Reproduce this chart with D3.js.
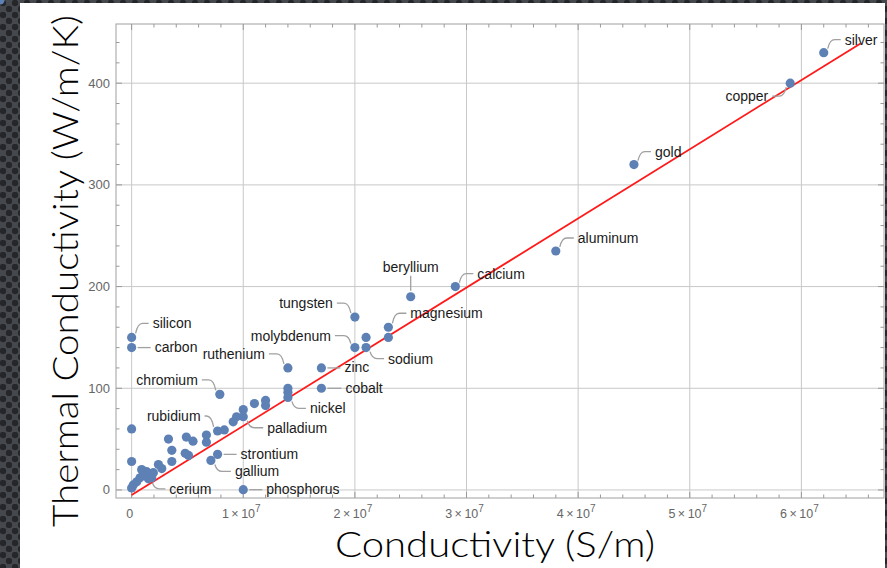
<!DOCTYPE html>
<html lang="en">
<head>
<meta charset="UTF-8">
<title>Thermal vs electrical conductivity</title>
<script src="https://d3js.org/d3.v7.min.js"></script>
<style>
  body { margin: 0; background: #3b3d42; }
  svg { display: block; }
</style>
</head>
<body>
<script>
// element names ("" = unlabeled point)
const names = ["silver", "copper", "gold", "aluminum", "calcium", "beryllium", "magnesium", "sodium",
  "tungsten", "molybdenum", "zinc", "cobalt", "nickel", "ruthenium", "chromium", "silicon", "carbon",
  "rubidium", "palladium", "strontium", "gallium", "phosphorus", "cerium",
  "", "", "", "", "", "", "", "", "", "", "", "", "", "", "", "", "", "", "", "", "", "",
  "", "", "", "", "", "", "", "", "", "", "", "", ""];
// electrical conductivity, S/m
const sigma = [6.2e7, 5.9e7, 4.5e7, 3.8e7, 2.9e7, 2.5e7, 2.3e7, 2.1e7,
  2.0e7, 2.0e7, 1.7e7, 1.7e7, 1.4e7, 1.4e7, 7.9e6, 0, 0,
  7.7e6, 1.0e7, 7.7e6, 7.1e6, 1.0e7, 1.5e6,
  2.3e7, 2.1e7, 1.4e7, 1.4e7, 8.3e6, 9.1e6, 9.4e6, 1.0e7, 1.1e7, 1.2e7, 1.2e7, 6.7e6, 6.7e6,
  5.5e6, 4.9e6, 3.3e6, 3.6e6, 4.8e6, 5.1e6, 3.6e6, 2.4e6, 2.7e6, 0, 0, 0, 1.5e5, 4.6e5, 7.5e5,
  9.0e5, 1.05e6, 1.35e6, 1.65e6, 1.95e6, 1.8e6];
// thermal conductivity, W/m/K
const kappa = [430, 400, 320, 235, 200, 190, 160, 140,
  170, 140, 120, 100, 91, 120, 94, 150, 140,
  58, 72, 35, 29, 0.24, 11,
  150, 150, 100, 96, 59, 67, 72, 79, 85, 88, 83, 54, 47,
  48, 52, 50, 39, 36, 34, 28, 25, 21, 60, 28, 2, 5, 8, 12,
  20, 15, 18, 16, 17, 12];

// linear fit kappa = a + b * sigma
const fitA = -5, fitB = 6.8e-6;
const fitRange = [0, 6.53e7];

const xTicks = [0, 1e7, 2e7, 3e7, 4e7, 5e7, 6e7];
const yTicks = [0, 100, 200, 300, 400];
const xTitle = "Conductivity (S/m)";
const yTitle = "Thermal Conductivity (W/m/K)";

// label placement: pixel offset from point, anchor
const labelPos = {
  silver: [21, -8, "start"], copper: [-22, 18, "end"], gold: [21, -8, "start"],
  aluminum: [22, -8, "start"], calcium: [22, -8, "start"], beryllium: [0, -25, "middle"],
  magnesium: [22, -9, "start"], sodium: [22, 16, "start"], tungsten: [-22, -9, "end"],
  molybdenum: [-24, -7, "end"], zinc: [23, 4.5, "start"], cobalt: [24, 4.5, "start"],
  nickel: [22, 16, "start"], ruthenium: [-23, -9, "end"], chromium: [-22, -9.5, "end"],
  silicon: [21, -9, "start"], carbon: [23, 4.5, "start"], rubidium: [-17, -10, "end"],
  palladium: [24, 16, "start"], strontium: [23, 4.5, "start"], gallium: [24, 16, "start"],
  phosphorus: [23, 4.5, "start"], cerium: [21, 15, "start"]
};

const W = 887, H = 568;
const frame = {left: 116, right: 884, top: 24, bottom: 498};

const svg = d3.select("body").append("svg").attr("width", W).attr("height", H);

// slide background with dots
const defs = svg.append("defs");
const pat = defs.append("pattern").attr("id", "dots").attr("patternUnits", "userSpaceOnUse")
  .attr("width", 12).attr("height", 12);
pat.append("rect").attr("width", 12).attr("height", 12).attr("fill", "#45484d");
pat.append("circle").attr("cx", 3).attr("cy", 3).attr("r", 3.2).attr("fill", "#24262a");
pat.append("circle").attr("cx", 9).attr("cy", 9).attr("r", 3.2).attr("fill", "#24262a");
svg.append("rect").attr("width", W).attr("height", H).attr("fill", "url(#dots)");
svg.append("rect").attr("x", 20).attr("y", 3).attr("width", 865).attr("height", H - 3).attr("fill", "#fff");

const x = d3.scaleLinear().domain([-1.4e6, 6.74e7]).range([frame.left, frame.right]);
const y = d3.scaleLinear().domain([-7.9, 458.2]).range([frame.bottom, frame.top]);

const g = svg.append("g");

// grid
g.selectAll(".gx").data(xTicks).enter().append("line")
  .attr("x1", d => x(d)).attr("x2", d => x(d)).attr("y1", frame.top).attr("y2", frame.bottom)
  .attr("stroke", "#c8c8c8").attr("stroke-width", 1);
g.selectAll(".gy").data(yTicks).enter().append("line")
  .attr("y1", d => y(d)).attr("y2", d => y(d)).attr("x1", frame.left).attr("x2", frame.right)
  .attr("stroke", "#c8c8c8").attr("stroke-width", 1);

// frame ticks (inward, on all four sides)
const xMinor = d3.range(0, 6.8e7, 2e6).filter(v => v % 1e7 !== 0);
const yMinor = d3.range(0, 460, 20).filter(v => v % 100 !== 0);
function frameTicks(vals, len) {
  vals.forEach(v => {
    g.append("line").attr("x1", x(v)).attr("x2", x(v)).attr("y1", frame.bottom).attr("y2", frame.bottom - len)
      .attr("stroke", "#999");
    g.append("line").attr("x1", x(v)).attr("x2", x(v)).attr("y1", frame.top).attr("y2", frame.top + len)
      .attr("stroke", "#999");
  });
}
frameTicks(xMinor, 3.5);
frameTicks(xTicks, 6);
yMinor.concat(yTicks).forEach(v => {
  const len = v % 100 === 0 ? 6 : 3.5;
  g.append("line").attr("y1", y(v)).attr("y2", y(v)).attr("x1", frame.left).attr("x2", frame.left + len).attr("stroke", "#999");
  g.append("line").attr("y1", y(v)).attr("y2", y(v)).attr("x1", frame.right).attr("x2", frame.right - len).attr("stroke", "#999");
});

g.append("rect").attr("x", frame.left).attr("y", frame.top)
  .attr("width", frame.right - frame.left).attr("height", frame.bottom - frame.top)
  .attr("fill", "none").attr("stroke", "#a0a0a0").attr("stroke-width", 1);

// tick labels
const tickFont = "'Liberation Sans', Arial, sans-serif";
g.selectAll(".ty").data(yTicks).enter().append("text")
  .attr("x", 110).attr("y", d => y(d) + 4.5).attr("text-anchor", "end")
  .attr("font-family", tickFont).attr("font-size", 13).attr("fill", "#666")
  .text(d => d);
const xt = g.selectAll(".tx").data(xTicks).enter().append("text")
  .attr("x", d => x(d) - 2).attr("y", 518).attr("text-anchor", "middle")
  .attr("font-family", tickFont).attr("font-size", 12.5).attr("fill", "#666");
xt.each(function(d) {
  const t = d3.select(this);
  if (d === 0) { t.text("0"); return; }
  t.append("tspan").text((d / 1e7) + "\u2009\u00d7\u200910");
  t.append("tspan").attr("dy", -6).attr("font-size", 10).text("7");
});

// fit line
g.append("line")
  .attr("x1", x(fitRange[0])).attr("y1", y(fitA + fitB * fitRange[0]))
  .attr("x2", x(fitRange[1])).attr("y2", y(fitA + fitB * fitRange[1]))
  .attr("stroke", "#ff1a1a").attr("stroke-width", 1.8);

// callout connectors and labels
const pts = names.map((n, i) => ({name: n, px: x(sigma[i]), py: y(kappa[i])}));
const labelled = pts.filter(p => p.name !== "");
labelled.forEach(p => {
  const [dx, dy, anchor] = labelPos[p.name];
  const lx = p.px + dx, ly = p.py + dy;
  const cy = ly - 5;
  let d;
  if (anchor === "middle") {
    d = `M${p.px},${p.py - 6}L${p.px},${ly + 4}`;
  } else if (anchor === "start") {
    if (Math.abs(dy) < 6) d = `M${p.px + 6},${p.py}L${lx - 4},${p.py}`;
    else {
      const sy = p.py + (dy < 0 ? -4 : 4);
      d = `M${p.px + 4},${sy}Q${p.px + 6},${cy} ${p.px + 11},${cy}L${lx - 4},${cy}`;
    }
  } else {
    if (Math.abs(dy) < 6) d = `M${p.px - 6},${p.py}L${lx + 4},${p.py}`;
    else {
      const sy = p.py + (dy < 0 ? -4 : 4);
      d = `M${p.px - 4},${sy}Q${p.px - 6},${cy} ${p.px - 11},${cy}L${lx + 4},${cy}`;
    }
  }
  g.append("path").attr("d", d).attr("fill", "none").attr("stroke", "#a0a0a0").attr("stroke-width", 1.3);
});

// points
g.selectAll(".pt").data(pts).enter().append("circle")
  .attr("cx", d => d.px).attr("cy", d => d.py).attr("r", 4.6)
  .attr("fill", "#5e81b5");

g.selectAll(".lb").data(labelled).enter().append("text")
  .attr("x", d => d.px + labelPos[d.name][0])
  .attr("y", d => d.py + labelPos[d.name][1])
  .attr("text-anchor", d => labelPos[d.name][2])
  .attr("font-family", tickFont).attr("font-size", 14).attr("fill", "#1a1a1a")
  .text(d => d.name);

// axis titles
const titleFont = "Lato, 'Open Sans', sans-serif";
svg.append("text").attr("x", 495).attr("y", 557).attr("text-anchor", "middle")
  .attr("font-family", titleFont).attr("font-size", 35).attr("font-weight", 300).attr("fill", "#000")
  .attr("textLength", 320).attr("lengthAdjust", "spacingAndGlyphs")
  .text(xTitle);
svg.append("text").attr("transform", "translate(78,271) rotate(-90)").attr("text-anchor", "middle")
  .attr("font-family", titleFont).attr("font-size", 36).attr("font-weight", 300).attr("fill", "#000")
  .attr("textLength", 512).attr("lengthAdjust", "spacingAndGlyphs")
  .text(yTitle);
</script>
</body>
</html>
